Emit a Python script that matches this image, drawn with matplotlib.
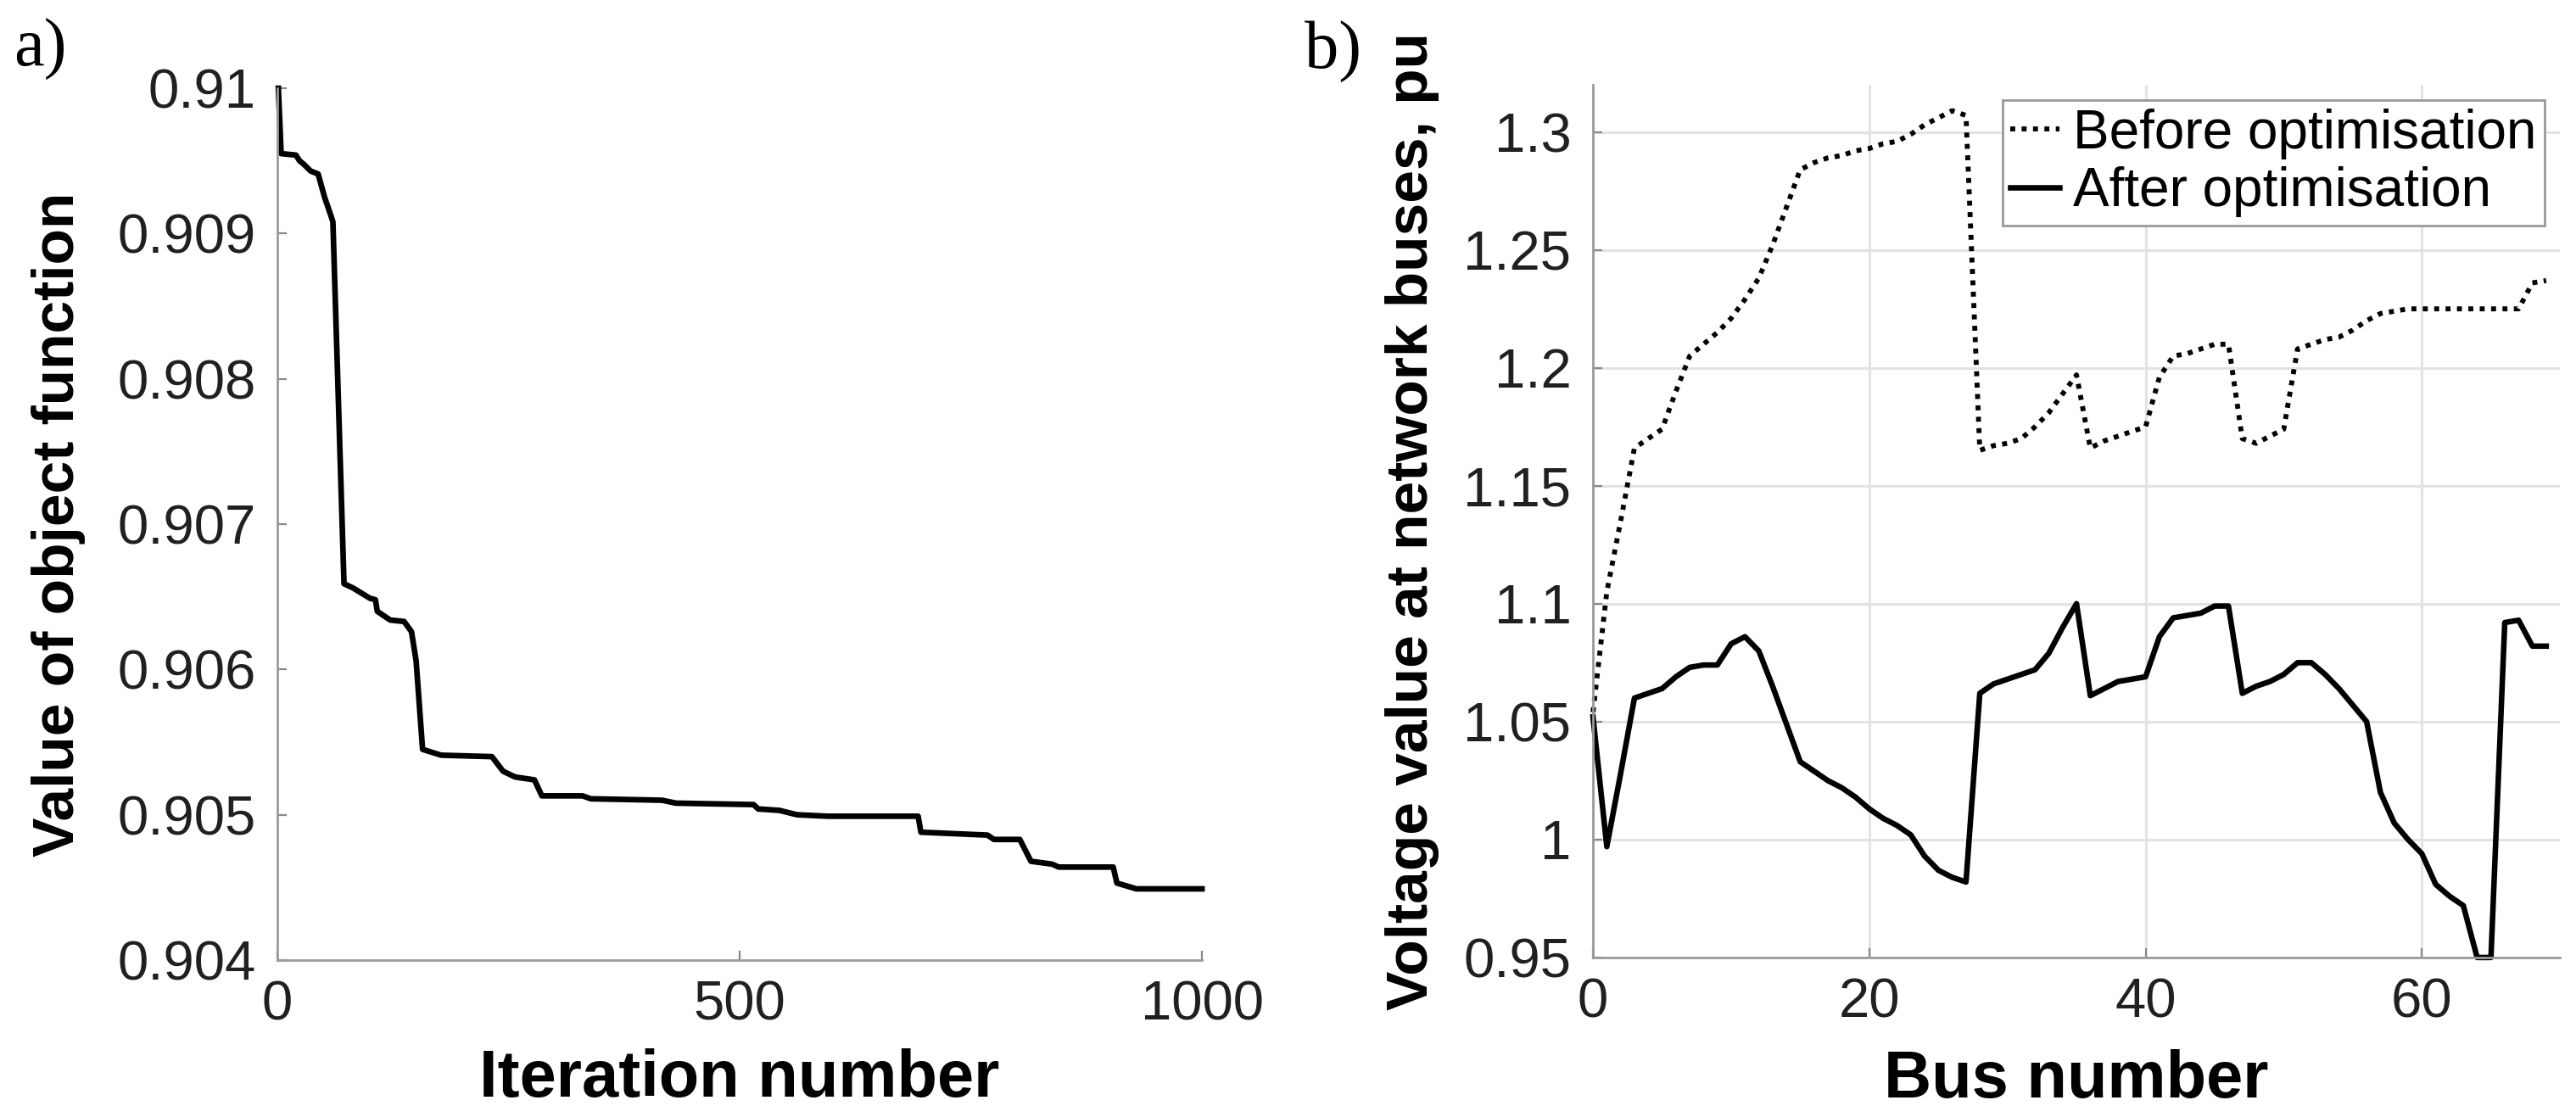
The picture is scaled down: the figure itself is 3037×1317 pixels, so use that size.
import matplotlib
matplotlib.use('Agg')
import matplotlib.pyplot as plt

# ---------------- data ----------------
# a) convergence of the object function (breakpoints read from the curve)
iterations = [1, 4, 20, 24, 28, 36, 44, 51, 58, 60, 72, 82, 100, 106, 108, 122,
              137, 145, 150, 157, 177, 232, 244, 257, 278, 286, 330, 339, 416,
              431, 515, 520, 543, 562, 595, 693, 696, 768, 775, 803, 815, 838,
              845, 904, 908, 929, 1000]
objective = [0.91000, 0.90955, 0.90954, 0.90950, 0.90948, 0.90943, 0.90941,
             0.90925, 0.90912, 0.90908, 0.90659, 0.90656, 0.90649, 0.90648,
             0.90640, 0.90634, 0.90633, 0.90626, 0.90606, 0.90545, 0.90541,
             0.90540, 0.90530, 0.90526, 0.90524, 0.90513, 0.90513, 0.90511,
             0.90510, 0.90508, 0.90507, 0.90504, 0.90503, 0.90500, 0.90499,
             0.90499, 0.90488, 0.90486, 0.90483, 0.90483, 0.90468, 0.90466,
             0.90464, 0.90464, 0.90453, 0.90449, 0.90449]

# b) bus voltages
bus_numbers = list(range(70))
v_before = [1.054, 1.105, 1.135, 1.166, 1.170, 1.174, 1.190, 1.205, 1.210, 1.215,
            1.221, 1.229, 1.238, 1.252, 1.268, 1.284, 1.287, 1.289, 1.290, 1.292,
            1.293, 1.295, 1.296, 1.299, 1.303, 1.306, 1.309, 1.307, 1.165, 1.167,
            1.168, 1.170, 1.175, 1.181, 1.189, 1.197, 1.166, 1.169, 1.171, 1.173,
            1.175, 1.196, 1.205, 1.206, 1.208, 1.210, 1.210, 1.170, 1.168, 1.171,
            1.174, 1.208, 1.210, 1.212, 1.213, 1.216, 1.220, 1.223, 1.224, 1.225,
            1.225, 1.225, 1.225, 1.225, 1.225, 1.225, 1.225, 1.225, 1.236, 1.237]
v_after = [1.052, 0.997, 1.028, 1.060, 1.062, 1.064, 1.069, 1.073, 1.074, 1.074,
           1.083, 1.086, 1.080, 1.065, 1.049, 1.033, 1.029, 1.025, 1.022, 1.018,
           1.013, 1.009, 1.006, 1.002, 0.993, 0.987, 0.984, 0.982, 1.062, 1.066,
           1.068, 1.070, 1.072, 1.079, 1.090, 1.100, 1.061, 1.064, 1.067, 1.068,
           1.069, 1.086, 1.094, 1.095, 1.096, 1.099, 1.099, 1.062, 1.065, 1.067,
           1.070, 1.075, 1.075, 1.070, 1.064, 1.057, 1.050, 1.020, 1.007, 1.000,
           0.994, 0.981, 0.976, 0.972, 0.950, 0.950, 1.092, 1.093, 1.082, 1.082]

series_labels = ['Before optimisation', 'After optimisation']

left_xticks = [0, 500, 1000]
left_yticks = [0.904, 0.905, 0.906, 0.907, 0.908, 0.909, 0.910]
left_yticklabels = ['0.904', '0.905', '0.906', '0.907', '0.908', '0.909', '0.91']
right_xticks = [0, 20, 40, 60]
right_yticks = [0.95, 1.0, 1.05, 1.1, 1.15, 1.2, 1.25, 1.3]
right_yticklabels = ['0.95', '1', '1.05', '1.1', '1.15', '1.2', '1.25', '1.3']

# ---------------- style ----------------
plt.rcParams['font.family'] = ['Liberation Sans', 'DejaVu Sans']
SPINE = '#9a9a9a'
TXT = '#202020'
TICK_FS = 47
LABEL_FS = 56

fig = plt.figure(figsize=(30.37, 13.17), dpi=100)
ax1 = fig.add_axes([0.1077, 0.1405, 0.3589, 0.7805])
ax2 = fig.add_axes([0.6184, 0.1428, 0.3754, 0.7813])

for ax in (ax1, ax2):
    for s in ('top', 'right'):
        ax.spines[s].set_visible(False)
    for s in ('left', 'bottom'):
        ax.spines[s].set_color(SPINE)
        ax.spines[s].set_linewidth(2.0)
    ax.tick_params(direction='in', length=8, width=1.6, color='#888888',
                   labelsize=TICK_FS, labelcolor=TXT)
    ax.tick_params(axis='y', pad=18.5)
    ax.tick_params(axis='x', pad=17)

# ---- a) ----
ax1.plot(iterations, objective, color='black', lw=4.8, solid_joinstyle='round',
         clip_on=False)
ax1.set_xlim(0, 1000)
ax1.set_ylim(0.904, 0.910)
ax1.set_xticks(left_xticks)
ax1.set_yticks(left_yticks)
ax1.set_yticklabels(left_yticklabels)
ax1.set_xlabel('Iteration number', fontsize=LABEL_FS, fontweight='bold')
ax1.xaxis.set_label_coords(0.5, -(1273 - 1132) / 1028)
ax1.xaxis.label.set_va('center')
ax1.set_ylabel('Value of object function', fontsize=50, fontweight='bold')
ax1.yaxis.set_label_coords((69 - 327) / 1090, 0.5)
ax1.yaxis.label.set_va('center')

# ---- b) ----
ax2.grid(True, color='#e3e3e3', lw=2.2)
ax2.set_axisbelow(True)
ax2.plot(bus_numbers, v_before, color='black', lw=4.2,
         linestyle=(0, (1, 1.3)), label=series_labels[0], clip_on=False)
ax2.plot(bus_numbers, v_after, color='black', lw=4.7, solid_joinstyle='round',
         label=series_labels[1], clip_on=False)
ax2.set_xlim(0, 70)
ax2.set_ylim(0.95, 1.32)
ax2.set_xticks(right_xticks)
ax2.set_yticks(right_yticks)
ax2.set_yticklabels(right_yticklabels)
ax2.set_xlabel('Bus number', fontsize=LABEL_FS, fontweight='bold')
ax2.xaxis.set_label_coords(0.5, -(1274 - 1129) / 1029)
ax2.xaxis.label.set_va('center')
ax2.set_ylabel('Voltage value at network buses, pu', fontsize=50,
               fontweight='bold')
ax2.yaxis.set_label_coords((1665 - 1878) / 1140, 0.5)
ax2.yaxis.label.set_va('center')

leg = ax2.legend(loc='upper right', bbox_to_anchor=(0.984, 0.9825),
                 borderaxespad=0, fontsize=46, frameon=True, fancybox=False,
                 framealpha=1, edgecolor='#999999', handlelength=0.9,
                 handletextpad=0.25, borderpad=0.15, labelspacing=0.14)
leg.get_frame().set_linewidth(2.0)
for t in leg.get_texts():
    t.set_color('black')

# panel labels
fig.text(47 / 3037, 1 - 58 / 1317, 'a)', family=['Liberation Serif', 'DejaVu Serif'],
         fontsize=58, ha='center', va='center')
fig.text(1572 / 3037, 1 - 61 / 1317, 'b)', family=['Liberation Serif', 'DejaVu Serif'],
         fontsize=58, ha='center', va='center')

fig.savefig('out.png', dpi=100, facecolor='white')
